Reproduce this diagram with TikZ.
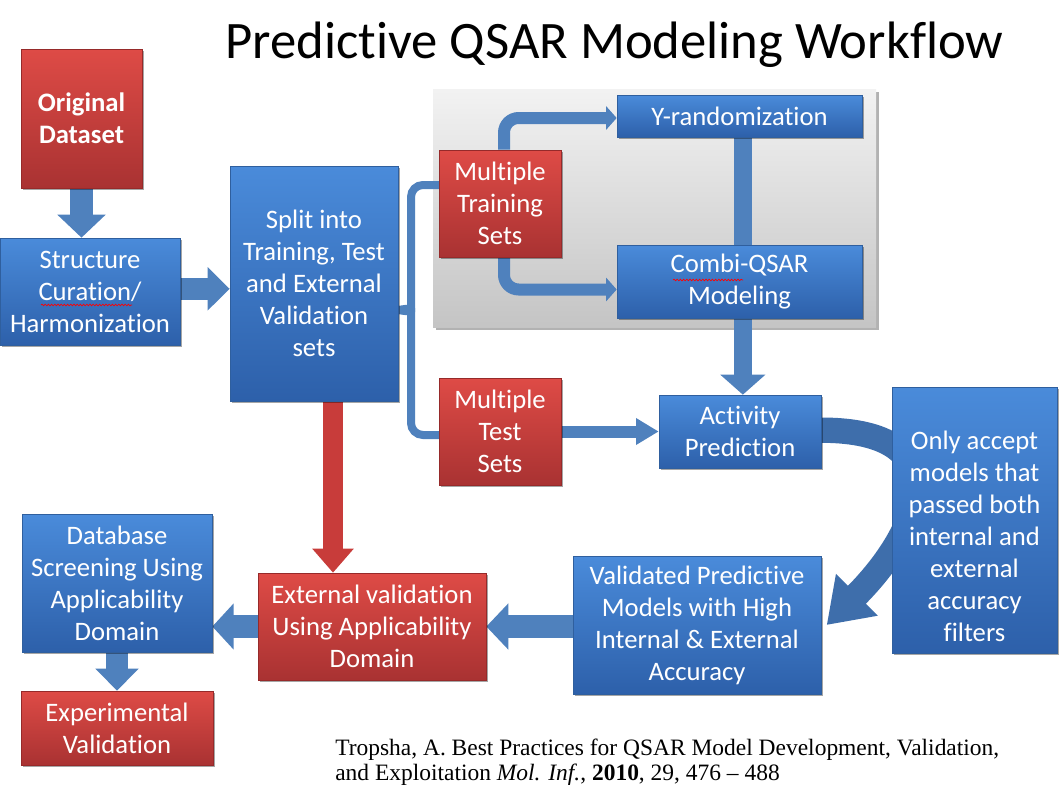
\documentclass[tikz,border=0pt]{standalone}
\usepackage{fontspec}
\setmainfont{Carlito}[Ligatures={NoCommon}]
\newfontfamily\citefont{Liberation Serif}
\usetikzlibrary{shadows,arrows.meta,calc,decorations.pathmorphing}
\pgfdeclarelayer{bg}
\pgfdeclarelayer{mid}
\pgfsetlayers{bg,mid,main}
\definecolor{bTop}{HTML}{4A8BDA}
\definecolor{bBot}{HTML}{2D60AA}
\definecolor{bEdge}{HTML}{2F5F9E}
\definecolor{rTop}{HTML}{DE4B46}
\definecolor{rBot}{HTML}{A93232}
\definecolor{rEdge}{HTML}{962A2A}
\definecolor{arw}{HTML}{4F81BD}
\definecolor{arwDark}{HTML}{3E6EAB}
\definecolor{redArw}{HTML}{C83C3A}
\begin{document}
\begin{tikzpicture}[x=0.75pt,y=-0.75pt,
  sz/.style 2 args={minimum width=#1*0.75pt, minimum height=#2*0.75pt},
  boxbase/.style={rectangle, inner sep=0pt, align=center, text=white,
    font=\fontsize{20}{24}\selectfont,
    drop shadow={shadow xshift=1.5pt, shadow yshift=-1.5pt, opacity=0.35, fill=black}},
  bluebox/.style={boxbase, top color=bTop, bottom color=bBot, draw=bEdge, line width=0.5pt},
  redbox/.style={boxbase, top color=rTop, bottom color=rBot, draw=rEdge, line width=0.5pt},
  fat/.style={draw=arw, line cap=butt},
  squig/.style={draw=red, line width=0.5pt, decorate, decoration={snake, amplitude=0.6pt, segment length=2.4pt}},
  brace/.style={draw=arw, line width=6pt, line cap=butt}
]
\useasboundingbox (0,0) rectangle (1059,793);
\begin{pgfonlayer}{bg}
  \fill[white] (0,0) rectangle (1059,793);
\end{pgfonlayer}

% title
\node (title) at (614.5,45) {\fontsize{39.5}{46}\selectfont Predictive QSAR Modeling Workflow};

% gray panel
\begin{pgfonlayer}{bg}
  \node[sz={443}{238}, inner sep=0pt, top color=white!95!black, bottom color=black!23,
        drop shadow={shadow xshift=2pt, shadow yshift=-2pt, opacity=0.3, fill=black}]
        (panel) at (654.5,208) {};
\end{pgfonlayer}

% boxes
\node[redbox, sz={121}{139}] (orig) at (81.5,118.5) {\textbf{Original}\\\textbf{Dataset}};
\node[bluebox, sz={180}{107}] (struct) at (90,291.5) {Structure\\Curation/\\Harmonization};
\node[bluebox, sz={168}{235}] (split) at (314,283.5) {Split into\\Training, Test\\and External\\Validation\\sets};
\node[redbox, sz={122}{107}] (mtrain) at (500,203.5) {Multiple\\Training\\Sets};
\node[bluebox, sz={245}{42}] (yrand) at (739.5,116) {Y-randomization};
\node[bluebox, sz={245}{73}] (combi) at (739.5,281.5) {Combi-QSAR\\Modeling};
\node[redbox, sz={122}{107}] (mtest) at (500,431.5) {Multiple\\Test\\Sets};
\node[bluebox, sz={162}{73}] (act) at (740,431.5) {Activity\\Prediction};
\node[bluebox, sz={165}{266}] (only) at (974.5,520) {};
\node[text=white, align=center, font=\fontsize{20}{24}\selectfont, inner sep=0pt] (onlyt) at (974.5,536)
  {Only accept\\models that\\passed both\\internal and\\external\\accuracy\\filters};
\node[bluebox, sz={248}{138}] (valid) at (697,625) {Validated Predictive\\Models with High\\Internal \& External\\Accuracy};
\node[redbox, sz={228}{107}] (ext) at (372,626.5) {External validation\\Using Applicability\\Domain};
\node[bluebox, sz={190}{138}] (db) at (117,583) {Database\\Screening Using\\Applicability\\Domain};
\node[redbox, sz={192}{74}] (exp) at (117,728) {Experimental\\Validation};

% spell-check squiggles
\draw[squig] (41,305) -- (132,305);
\draw[squig] (673,280) -- (743,280);

% citation
\node[anchor=west, align=left, inner sep=0pt, font=\citefont\fontsize{17.6}{18.75}\selectfont] (cite) at (335,762)
  {Tropsha, A. Best Practices for QSAR Model Development, Validation,\\
   and Exploitation \textit{Mol. Inf.}, \textbf{2010}, 29, 476 – 488};

\begin{pgfonlayer}{mid}
  % block arrows
  \draw[fat, line width=17.25pt, -{Triangle[width=35.25pt,length=17.25pt]}]
    (orig.south) -- (orig.south |- struct.north);
  \draw[fat, line width=16.5pt, -{Triangle[width=31.5pt,length=16.5pt]}]
    ([yshift=2pt]struct.east) -- ([yshift=2pt]struct.east -| split.west);
  \draw[draw=redArw, line width=15pt, -{Triangle[width=30pt,length=18pt]}]
    ($(split.south)+(19,0)$) -- ($(split.south |- ext.north)+(19,0)$);
  \draw[fat, line width=17.25pt, -{Triangle[width=33.75pt,length=16.5pt]}]
    (ext.east -| valid.west) -- (ext.east);
  \draw[fat, line width=17.25pt, -{Triangle[width=33.75pt,length=16pt]}]
    (ext.west) -- (ext.west -| db.east);
  \draw[fat, line width=16.5pt, -{Triangle[width=31.5pt,length=16.5pt]}]
    (db.south) -- (exp.north);
  % training set arrows
  \draw[fat, line width=9pt, rounded corners=11pt, -{Triangle[width=17.5pt,length=8pt]}]
    ([xshift=3pt]mtrain.north) |- ([yshift=-1.5pt]yrand.west);
  \draw[fat, line width=9pt, rounded corners=11pt, -{Triangle[width=17.5pt,length=8pt]}]
    ([xshift=3pt]mtrain.south) |- ([yshift=-6pt]combi.west);
  % bar and down arrow
  \draw[fat, line width=13.5pt] ([xshift=2.5pt]yrand.south) -- ([xshift=2.5pt]combi.north);
  \draw[fat, line width=13.5pt, -{Triangle[width=33pt,length=15pt]}]
    ([xshift=2.5pt]combi.south) -- ([xshift=2.5pt]combi.south |- act.north);
  % test to activity
  \draw[fat, line width=9pt, -{Triangle[width=19pt,length=17pt]}] (mtest.east) -- (act.west);
  % curved arrow behind "only" box
  \draw[draw=arwDark, line width=19pt, line cap=butt, -{Triangle[width=42pt,length=32pt]}]
    ([yshift=1pt]act.east) to[out=0, in=45, looseness=1.8] ([xshift=4pt]valid.east);
  % brace
  \coordinate (bA) at (439,185);
  \coordinate (bB) at (439,435);
  \coordinate (bT) at (398,310);
  \draw[brace] (bA) [rounded corners=9pt] -| (411,300) [sharp corners] .. controls (411,308) .. (bT);
  \draw[brace] (bB) [rounded corners=9pt] -| (411,320) [sharp corners] .. controls (411,312) .. (bT);
\end{pgfonlayer}
\end{tikzpicture}
\end{document}
